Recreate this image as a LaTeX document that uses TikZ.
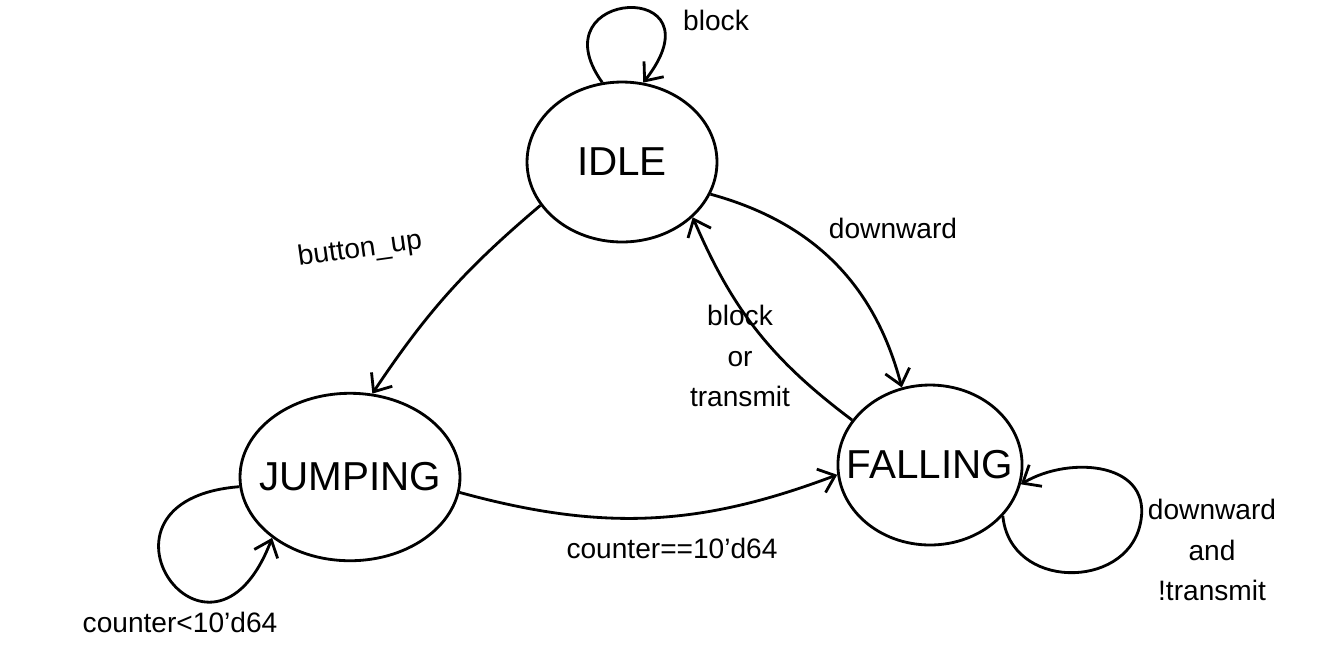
\documentclass[tikz,border=0pt]{standalone}
\usepackage{fontspec}
\setmainfont{Liberation Sans}
\usetikzlibrary{shapes.geometric,arrows.meta}

\begin{document}
\begin{tikzpicture}[x=0.02cm,y=-0.02cm,line width=1.6pt,
  state/.style={ellipse,draw,inner ysep=0pt,inner xsep=-0.36cm,font=\fontsize{23}{27}\selectfont},
  edge/.style={-{Straight Barb[length=3mm,width=5mm]}},
  lbl/.style={font=\fontsize{16}{23}\selectfont,align=center}]
\useasboundingbox (0,0) rectangle (1327,667);
% states
\node [state,minimum width=3.8cm,minimum height=3.2cm] (idle) at (622,162) {IDLE};
\node [state,minimum width=4.4cm,minimum height=3.35cm] (jump) at (350,477) {JUMPING};
\node [state,minimum width=3.6cm,minimum height=3.2cm] (fall) at (930,465) {FALLING};
% transitions
\draw [edge] (idle.104) .. controls (535,-12) and (725,-22) .. (idle.75);
\node [lbl] (lblock) at (716,20) {block};
\draw [edge] (idle.208) to [bend right=8] (jump.75);
\node [lbl,rotate=8] (lup) at (360,250) {button\_up};
\draw [edge] (idle.340) to [bend left=30] (fall.110);
\node [lbl] (ldown) at (893,228) {downward};
\draw [edge] (fall.150) to [bend left=15] (idle.322);
\node [lbl] (lback) at (740,356) {block\\or\\transmit};
\draw [edge] (jump.-8) to [bend right=18] (fall.186);
\node [lbl] (lhit) at (672,548) {counter==10'd64};
\draw [edge] (jump.185) .. controls (70,500) and (210,700) .. (jump.218);
\node [lbl] (ljump) at (180,622) {counter<10'd64};
\draw [edge] (fall.-35) .. controls (1010,590) and (1125,590) .. (1140,525)
  .. controls (1155,462) and (1070,455) .. (fall.-12);
\node [lbl] (lfall) at (1212,550) {downward\\and\\!transmit};
\end{tikzpicture}
\end{document}
